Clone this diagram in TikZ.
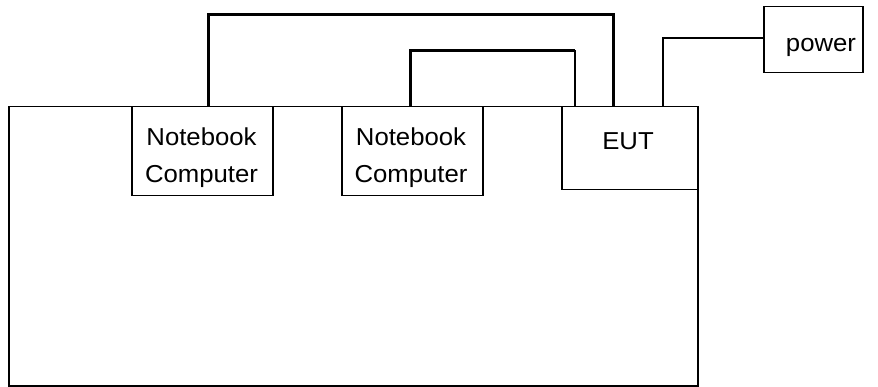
\documentclass[tikz,border=0pt]{standalone}
\usepackage{fontspec}
\newfontfamily\lblfont[FakeStretch=1.05]{Liberation Sans}
\begin{document}
\begin{tikzpicture}[x=1pt,y=-1pt,
  outline/.style={draw=black,line width=1.5pt,fill=white,inner sep=0pt},
  cable/.style={draw=black,line width=3pt},
  thincable/.style={draw=black,line width=1.6pt},
  pwrcable/.style={draw=black,line width=2.5pt},
  lbl/.style={font=\lblfont\fontsize{24.5}{37}\selectfont,align=center,inner sep=0pt}]
\useasboundingbox (0,0) rectangle (878,387);

% table
\node[outline,anchor=north west,minimum width=689pt,minimum height=279pt] (table) at (8,106) {};

% equipment on the table
\node[outline,anchor=north west,minimum width=141pt,minimum height=89pt] (nb1) at (131,106) {};
\node[outline,anchor=north west,minimum width=141pt,minimum height=89pt] (nb2) at (341,106) {};
\node[outline,anchor=north west,minimum width=136pt,minimum height=83pt] (eut) at (561,106) {};
\node[outline,anchor=north west,minimum width=99pt,minimum height=66pt] (pwr) at (763,6) {};

% labels (base anchor sits on the last line's baseline)
\node[lbl,anchor=base] (nb1txt) at (201.5,182.7) {Notebook\\Computer};
\node[lbl,anchor=base] (nb2txt) at (411,182.7) {Notebook\\Computer};
\node[lbl,anchor=base] (euttxt) at (628,150) {EUT};
\node[lbl,anchor=base] (pwrtxt) at (821,51.7) {power};

% cable routing points
\coordinate (c1) at (208,14.5);
\coordinate (c2) at (410,50.5);
\coordinate (c3) at (662,38);

% cables
\draw[cable] (nb1.north -| c1) |- (c1) -| ([xshift=-16pt]eut.north);
\draw[cable] (nb2.north -| c2) |- (c2) -- ([xshift=-55pt]eut.north |- c2);
\draw[thincable] ([xshift=-55pt]eut.north |- c2) -- ([xshift=-55pt]eut.north);
\draw[pwrcable] ([xshift=33pt]eut.north) |- (pwr.west |- c3);
\end{tikzpicture}
\end{document}
